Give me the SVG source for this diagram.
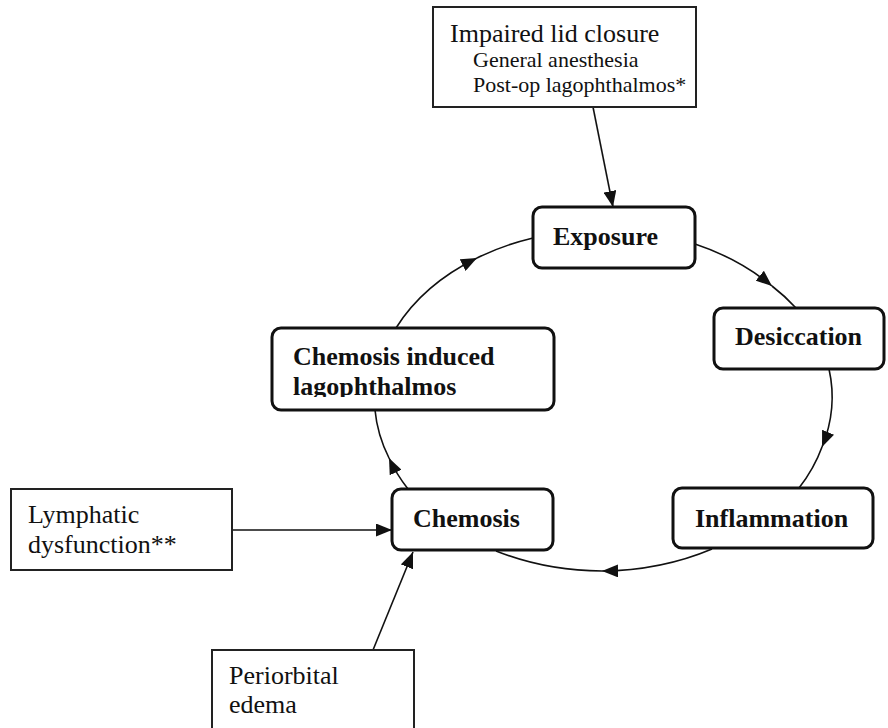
<svg xmlns="http://www.w3.org/2000/svg" width="888" height="728" viewBox="0 0 888 728">
<style>
.plain{fill:#fff;stroke:#222;stroke-width:2}
.node{fill:#fff;stroke:#111;stroke-width:3}
.t{font-family:"Liberation Serif","Times New Roman",serif;fill:#111}
.b{font-weight:bold;font-size:26px}
.n{font-size:26px}
.s{font-size:22px}
.c{fill:none;stroke:#111;stroke-width:1.6}
</style>
<defs>
<marker id="ah" markerUnits="userSpaceOnUse" markerWidth="17" markerHeight="13" viewBox="0 0 17 13" refX="16" refY="6.5" orient="auto">
<path d="M0,0 L16,6.5 L0,13 Z" fill="#111"/>
</marker>
<clipPath id="clipCI"><rect x="272" y="328" width="282" height="69"/></clipPath>
</defs>
<rect width="888" height="728" fill="#fff"/>
<g id="connectors">
<path class="c" d="M593,107 L613,207" marker-end="url(#ah)"/>
<path class="c" d="M232,530 L392,530" marker-end="url(#ah)"/>
<path class="c" d="M373,650 L413,552" marker-end="url(#ah)"/>
<path class="c" d="M695,244 A228,170 0 0 1 772,286" marker-end="url(#ah)"/>
<path class="c" d="M772,286 A228,170 0 0 1 796,308"/>
<path class="c" d="M829,369 A228,170 0 0 1 822,447" marker-end="url(#ah)"/>
<path class="c" d="M822,447 A228,170 0 0 1 799,488"/>
<path class="c" d="M712,549 A228,170 0 0 1 602,571" marker-end="url(#ah)"/>
<path class="c" d="M602,571 A228,170 0 0 1 496,551"/>
<path class="c" d="M408,489 A228,170 0 0 1 389,458" marker-end="url(#ah)"/>
<path class="c" d="M389,458 A228,170 0 0 1 375,410"/>
<path class="c" d="M396,328 A228,170 0 0 1 477,258" marker-end="url(#ah)"/>
<path class="c" d="M477,258 A228,170 0 0 1 533,238"/>
</g>
<g id="impaired">
<rect class="plain" x="433" y="7" width="263" height="100"/>
<text class="t n" x="450" y="42">Impaired lid closure</text>
<text class="t s" x="473" y="67">General anesthesia</text>
<text class="t s" x="473" y="92">Post-op lagophthalmos*</text>
</g>
<g id="exposure">
<rect class="node" x="533" y="207" width="162" height="61" rx="9"/>
<text class="t b" x="553" y="245">Exposure</text>
</g>
<g id="desiccation">
<rect class="node" x="714" y="308" width="170" height="61" rx="9"/>
<text class="t b" x="735" y="345">Desiccation</text>
</g>
<g id="inflammation">
<rect class="node" x="673" y="488" width="200" height="60" rx="9"/>
<text class="t b" x="695" y="527">Inflammation</text>
</g>
<g id="chemosis">
<rect class="node" x="392" y="489" width="161" height="61" rx="9"/>
<text class="t b" x="413" y="527">Chemosis</text>
</g>
<g id="chemosis-induced">
<rect class="node" x="272" y="328" width="282" height="82" rx="9"/>
<g clip-path="url(#clipCI)">
<text class="t b" x="293" y="365">Chemosis induced</text>
<text class="t b" x="293" y="395">lagophthalmos</text>
</g>
</g>
<g id="lymphatic">
<rect class="plain" x="11" y="489" width="221" height="81"/>
<text class="t n" x="28" y="523">Lymphatic</text>
<text class="t n" x="28" y="553">dysfunction**</text>
</g>
<g id="periorbital">
<rect class="plain" x="212" y="650" width="202" height="90"/>
<text class="t n" x="229" y="684">Periorbital</text>
<text class="t n" x="229" y="713">edema</text>
</g>
</svg>
